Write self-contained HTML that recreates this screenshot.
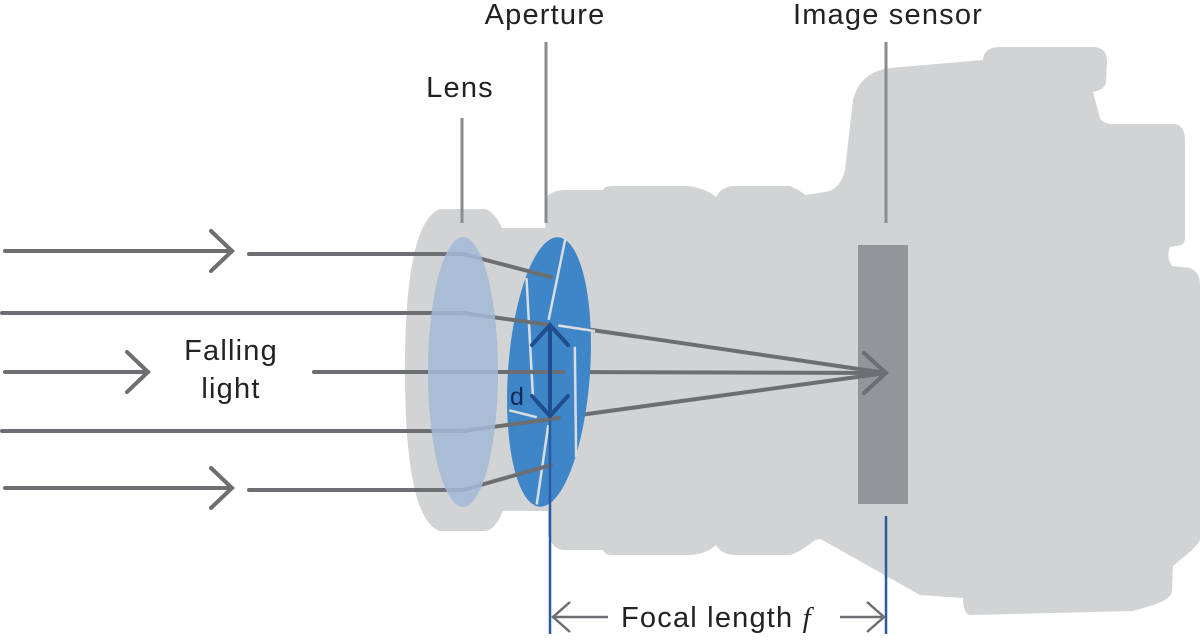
<!DOCTYPE html>
<html><head><meta charset="utf-8"><style>
html,body{margin:0;padding:0;background:#fff;}
svg{display:block;}
text{font-family:"Liberation Sans","DejaVu Sans",sans-serif;fill:#222;letter-spacing:1.2px;}
</style></head><body>
<svg width="1200" height="640" viewBox="0 0 1200 640" xmlns="http://www.w3.org/2000/svg">
<g fill="#d2d3d5">
 <path d="M800,196 L825,192 Q840,190 845,170 L853,100 Q860,72 890,68 L983,60 Q984,47 1000,47 L1095,47 Q1107,48 1107,62 L1106,82 Q1105,90 1093,92 L1100,118 Q1102,124 1115,124 L1175,124 Q1185,126 1185,140 L1185,238 Q1185,246 1175,246 L1170,247 Q1166,258 1172,266 L1190,268 Q1200,272 1200,285 L1200,540 Q1196,548 1180,560 L1173,566 L1172,592 Q1170,600 1150,606 L1133,611 L970,615 Q963,614 963,598 L920,595 L817,537 L800,540 Z"/>
 <path d="M545,200 Q550,190 565,190 L603,190 Q605,186 612,186 L688,186 Q705,188 716,197 Q722,186 735,186 L790,186 Q800,190 815,202 L835,200 L835,536 L815,540 Q800,552 790,555 L735,555 Q722,555 716,545 Q705,555 688,555 L612,555 Q605,555 603,550 L565,550 Q553,550 548,535 Z"/>
 <rect x="480" y="228" width="80" height="283"/>
 <path d="M440,209 L485,209 Q495,212 503,230 Q508,370 503,511 Q495,530 485,531 L440,531 Q405,520 405,370 Q405,222 440,209 Z"/>
</g>
<rect x="858" y="245" width="50" height="259" fill="#939598"/>
<g stroke="#8a8b8d" stroke-width="3">
 <line x1="462" y1="118" x2="462" y2="223"/>
 <line x1="546" y1="42" x2="546" y2="223"/>
 <line x1="886" y1="42" x2="886" y2="223"/>
</g>
<g stroke="#6d6e71" stroke-width="4" stroke-linecap="round" fill="none">
 <line x1="551" y1="324" x2="886" y2="373"/>
 <line x1="560" y1="372" x2="886" y2="373"/>
 <line x1="558" y1="418" x2="886" y2="373"/>
 <polyline points="864,353 886,373 864,393"/>
</g>
<g transform="rotate(4 549 372)">
 <ellipse cx="549" cy="372" rx="41" ry="135" fill="#3e86c7"/>
 <g stroke="#d8dde3" stroke-width="2.5">
  <line x1="556" y1="238" x2="545" y2="320"/>
  <line x1="555" y1="325" x2="592" y2="328"/>
  <line x1="520" y1="280" x2="535" y2="400"/>
  <line x1="512" y1="413" x2="540" y2="418"/>
  <line x1="573" y1="345" x2="582" y2="455"/>
  <line x1="552" y1="425" x2="546" y2="505"/>
 </g>
</g>
<g stroke="#6d6e71" stroke-width="4" stroke-linecap="round" fill="none">
 <line x1="5" y1="251" x2="232" y2="251"/>
 <polyline points="211,231 232,251 211,271"/>
 <line x1="249" y1="254" x2="463" y2="254"/>
 <line x1="463" y1="254" x2="551" y2="277"/>
 <line x1="2" y1="313" x2="463" y2="313"/>
 <line x1="463" y1="313" x2="550" y2="325"/>
 <line x1="5" y1="372" x2="148" y2="372"/>
 <polyline points="127,352 148,372 127,392"/>
 <line x1="314" y1="372" x2="563" y2="372"/>
 <line x1="2" y1="431" x2="463" y2="431"/>
 <line x1="463" y1="431" x2="559" y2="418"/>
 <line x1="5" y1="488" x2="232" y2="488"/>
 <polyline points="211,468 232,488 211,508"/>
 <line x1="249" y1="490" x2="463" y2="490"/>
 <line x1="463" y1="490" x2="551" y2="465"/>
</g>
<ellipse cx="463" cy="372" rx="35" ry="135" fill="#a3b8d6" fill-opacity="0.85"/>
<g stroke="#1f4e8f" stroke-width="4" fill="none" stroke-linecap="round">
 <line x1="550" y1="325" x2="550" y2="416"/>
 <polyline points="532,345 550,325 568,345"/>
 <polyline points="532,396 550,416 568,396"/>
</g>
<text x="510" y="405" font-size="25" style="fill:#0d2a55">d</text>
<g stroke="#2b5aa3" stroke-width="2.5">
 <line x1="550" y1="420" x2="550" y2="634"/>
 <line x1="886" y1="516" x2="886" y2="634"/>
</g>
<g stroke="#6d6e71" stroke-width="2.5" fill="none">
 <line x1="552" y1="617" x2="608" y2="617"/>
 <polyline points="570,602 553,617 570,632"/>
 <line x1="840" y1="617" x2="884" y2="617"/>
 <polyline points="867,602 884,617 867,632"/>
</g>
<text x="621" y="627" font-size="29">Focal length <tspan font-family="Liberation Serif" font-style="italic">f</tspan></text>
<text x="545" y="24" font-size="29" text-anchor="middle">Aperture</text>
<text x="888" y="24" font-size="29" text-anchor="middle">Image sensor</text>
<text x="460" y="97" font-size="29" text-anchor="middle">Lens</text>
<text x="231" y="360" font-size="29" text-anchor="middle">Falling</text>
<text x="231" y="398" font-size="29" text-anchor="middle">light</text>
</svg>
</body></html>
